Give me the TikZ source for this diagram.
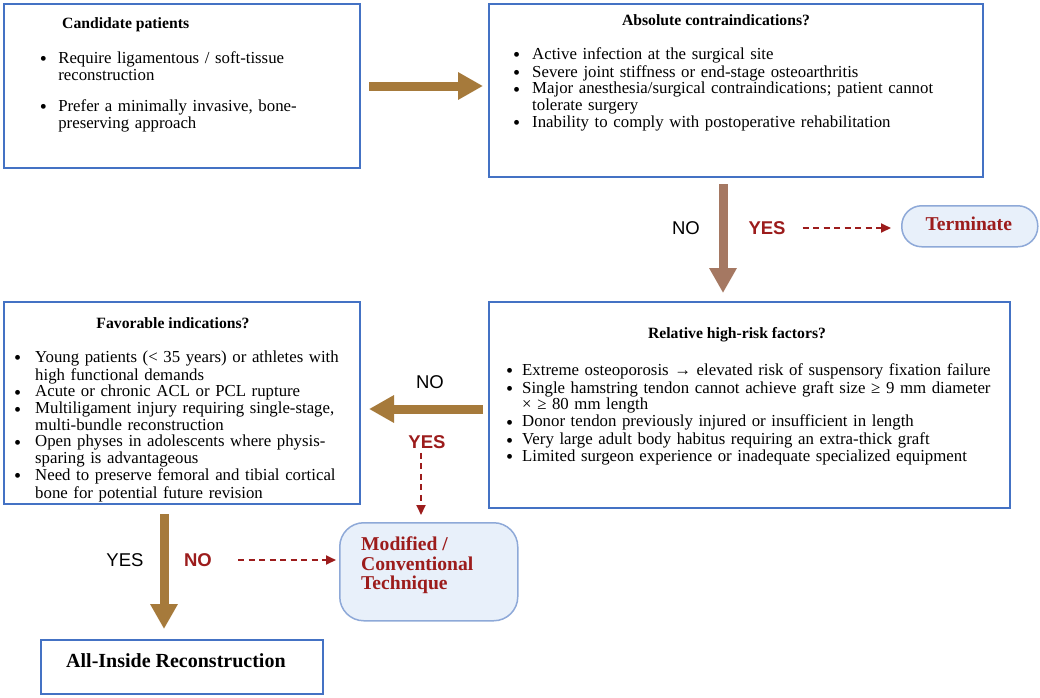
\documentclass[tikz,border=0pt]{standalone}
\usepackage{graphicx}
\usepackage{fontspec}
\setmainfont{Liberation Serif}
\setsansfont{Liberation Sans}
\usetikzlibrary{arrows.meta,calc}
\definecolor{boxblue}{HTML}{4472C4}
\definecolor{goldc}{HTML}{A67A3B}
\definecolor{mauvec}{HTML}{A57862}
\definecolor{darkredc}{HTML}{9C1C1C}
\definecolor{lightfill}{HTML}{E8F0FA}
\definecolor{lightedge}{HTML}{8EA9D8}
\newcommand{\bitem}[2]{\hangindent=#1\hangafter=1\noindent\strut\makebox[#1][l]{\raisebox{-2.6pt}{\scalebox{1.2}{\textbullet}}}#2\par}
\begin{document}
\begin{tikzpicture}[x=1pt,y=-1pt,
  panel/.style={draw=boxblue, line width=2pt, anchor=north west, inner sep=0pt},
  roundpanel/.style={draw=lightedge, fill=lightfill, line width=1.5pt, anchor=north west, inner sep=0pt},
  titletxt/.style={font=\fontsize{15.7}{17}\selectfont\bfseries, inner sep=0pt, anchor=base},
  bodytxt/.style={font=\fontsize{16.8}{16.7}\selectfont, inner sep=0pt, anchor=north west, align=left, text width=600pt},
  lab/.style={font=\sffamily\fontsize{18.5}{20}\selectfont, inner sep=0pt},
  redlab/.style={font=\sffamily\bfseries\fontsize{18.5}{20}\selectfont, text=darkredc, inner sep=0pt},
  bigarrow/.style={line width=9pt, -{Triangle[width=26pt,length=25pt]}},
  dasharrow/.style={draw=darkredc, line width=1.8pt, dash pattern=on 6pt off 4.5pt, -{Triangle[width=9pt,length=10pt]}}
]
\useasboundingbox[fill=white] (0,0) rectangle (1040,697);

% boxes
\node[panel, minimum width=356pt, minimum height=164pt] (box1) at (3,3) {};
\node[panel, minimum width=494pt, minimum height=173pt] (box2) at (488,3) {};
\node[panel, minimum width=521pt, minimum height=206pt] (box3) at (488,301) {};
\node[panel, minimum width=356pt, minimum height=202pt] (box4) at (3,301) {};
\node[panel, minimum width=282pt, minimum height=54pt] (allin) at (40,639) {};
\node[roundpanel, rounded corners=24pt, minimum width=178pt, minimum height=98pt] (mod) at (339,522) {};
\node[roundpanel, rounded corners=20pt, minimum width=136pt, minimum height=41pt] (term) at (901,205) {};

% box 1
\node[titletxt, anchor=base west] (t1) at (62,28) {Candidate patients};
\node[bodytxt] (l1) at (39.6,51.3) {\raggedright\bitem{18.5pt}{Require ligamentous / soft-tissue\newline reconstruction}\vspace{14.6pt}\bitem{18.5pt}{Prefer a minimally invasive, bone-\newline preserving approach}};

% box 2
\node[titletxt] (t2) at (716,25) {Absolute contraindications?};
\node[bodytxt] (l2) at (513,47.3) {\raggedright\bitem{19pt}{Active infection at the surgical site}\bitem{19pt}{Severe joint stiffness or end-stage osteoarthritis}\bitem{19pt}{Major anesthesia/surgical contraindications; patient cannot\newline tolerate surgery}\bitem{19pt}{Inability to comply with postoperative rehabilitation}};

% box 3
\node[titletxt] (t3) at (737,338) {Relative high-risk factors?};
\node[bodytxt] (l3) at (506,363.3) {\raggedright\bitem{16pt}{Extreme osteoporosis → elevated risk of suspensory fixation failure}\bitem{16pt}{Single hamstring tendon cannot achieve graft size ≥ 9 mm diameter\newline × ≥ 80 mm length}\bitem{16pt}{Donor tendon previously injured or insufficient in length}\bitem{16pt}{Very large adult body habitus requiring an extra-thick graft}\bitem{16pt}{Limited surgeon experience or inadequate specialized equipment}};

% box 4
\node[titletxt] (t4) at (173,328) {Favorable indications?};
\node[bodytxt] (l4) at (14,350.3) {\raggedright\bitem{21pt}{Young patients (< 35 years) or athletes with\newline high functional demands}\bitem{21pt}{Acute or chronic ACL or PCL rupture}\bitem{21pt}{Multiligament injury requiring single-stage,\newline multi-bundle reconstruction}\bitem{21pt}{Open physes in adolescents where physis-\newline sparing is advantageous}\bitem{21pt}{Need to preserve femoral and tibial cortical\newline bone for potential future revision}};

% final boxes text
\node[anchor=base west, inner sep=0pt, font=\fontsize{20}{20}\selectfont\bfseries] (allintxt) at (66,667) {All-Inside Reconstruction};
\node[anchor=north west, inner sep=0pt, align=left, font=\fontsize{19.6}{19.5}\selectfont\bfseries, text=darkredc] (modtxt) at (361,536.5) {\strut Modified /\\Conventional\\Technique};
\node[inner sep=0pt, font=\fontsize{19.6}{20}\selectfont\bfseries, text=darkredc] (termtxt) at ([yshift=2.5pt,xshift=-1pt]term.center) {Terminate};

% labels
\node[lab] (no1) at (686,228) {NO};
\node[redlab] (yes1) at (767,228) {YES};
\node[lab] (no2) at (430,382) {NO};
\node[redlab] (yes2) at (427,442) {YES};
\node[lab] (yes3) at (125,560) {YES};
\node[redlab] (no3) at (198,560) {NO};

% main arrows
\draw[goldc, bigarrow, shorten <=8pt, shorten >=5pt] (box1.east) -- (box1.east -| box2.west);
\draw[mauvec, bigarrow, shorten <=6pt, shorten >=8pt] ([xshift=-13pt]box2.south) -- ([xshift=-13pt]box2.south |- box3.north);
\draw[goldc, bigarrow, shorten <=5pt, shorten >=8pt] ([yshift=-4pt]box3.west) -- ([yshift=-4pt]box3.west -| box4.east);
\draw[goldc, bigarrow, shorten <=9pt, shorten >=10pt] ([xshift=-18pt]box4.south) -- ([xshift=-18pt]box4.south |- allin.north);

% dashed arrows
\draw[dasharrow, shorten <=17pt, shorten >=10pt] (yes1.east) -- (yes1.east -| term.west);
\draw[dasharrow, shorten <=4pt, shorten >=7pt] ([xshift=-6pt]yes2.south) -- ([xshift=-6pt]yes2.south |- mod.north);
\draw[dasharrow, shorten <=26pt, shorten >=3pt] (no3.east) -- (no3.east -| mod.west);
\end{tikzpicture}
\end{document}
